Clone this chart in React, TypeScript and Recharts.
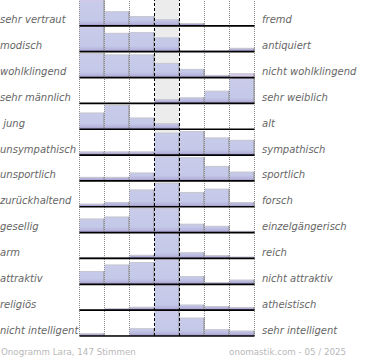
import React from 'react';
import { ComposedChart, Bar, XAxis, YAxis, ReferenceLine, ReferenceArea } from 'recharts';

const columns = ['1', '2', '3', '4', '5', '6', '7'];

const leftLabels = ['sehr vertraut', 'modisch', 'wohlklingend', 'sehr männlich', ' jung', 'unsympathisch', 'unsportlich', 'zurückhaltend', 'gesellig', 'arm', 'attraktiv', 'religiös', 'nicht intelligent'];
const rightLabels = ['fremd', 'antiquiert', 'nicht wohlklingend', 'sehr weiblich', 'alt', 'sympathisch', 'sportlich', 'forsch', 'einzelgängerisch', 'reich', 'nicht attraktiv', 'atheistisch', 'sehr intelligent'];

const vertraut = [32, 14.5, 9.8, 6.5, 2.8, 0, 0];
const modisch = [30, 18.8, 19.5, 14.2, 1.6, 1.4, 3.8];
const wohlklingend = [24.6, 23, 23, 14.6, 8.6, 2.6, 0];
const maennlich = [0, 0, 0, 4, 6, 12.6, 30];
const jung = [16.6, 24.3, 11.6, 6, 0, 0, 0];
const unsympathisch = [3.5, 3.5, 3.5, 22.3, 24, 17.5, 15.2];
const unsportlich = [4, 4, 8.3, 25, 23.8, 15, 9.2];
const zurueckhaltend = [3, 4.8, 17.2, 24, 14.8, 18, 4.7];
const gesellig = [14, 16, 25, 25, 8.8, 6.7, 1.7];
const arm = [1.5, 1.5, 3.6, 25.8, 6.2, 3.2, 1.7];
const attraktiv = [13.3, 19.7, 22.3, 25.8, 8.3, 2, 4.6];
const religioes = [0.3, 1.7, 3.3, 25.8, 5.5, 4, 3.2];
const intelligent = [2.7, 0.4, 7.7, 25.8, 18.3, 6.7, 5.3];

const rows = [vertraut, modisch, wohlklingend, maennlich, jung, unsympathisch, unsportlich, zurueckhaltend, gesellig, arm, attraktiv, religioes, intelligent];

const footerLeft = 'Onogramm Lara, 147 Stimmen';
const footerRight = 'onomastik.com - 05 / 2025';

const N = rows.length;
const ROW = 336 / N;
const baseOf = (r: number) => (N - 1 - r) * ROW;

const data = columns.map((c, i) => ({ col: c, v: rows.map((row) => row[i]) }));
const ticks = rows.map((_, r) => baseOf(r));
const rowOfValue = (v: number) => rows.findIndex((_, r) => Math.abs(baseOf(r) - v) < 0.01);

const BarShape = (props: any) => {
  const { x, y, width, height, index, row } = props;
  const top = Math.min(y, y + height);
  const h = Math.abs(height);
  if (!(h > 0.2)) return <g />;
  const bottom = top + h;
  const id = `grad-${row}-${index}`;
  return (
    <g>
      <defs>
        <linearGradient id={id} gradientUnits="userSpaceOnUse" x1={0} x2={0} y1={bottom} y2={bottom - 32}>
          <stop offset="0" stopColor="#9c8ec6" />
          <stop offset="0.07" stopColor="#b6b4dc" />
          <stop offset="0.18" stopColor="#c5c9e9" />
          <stop offset="0.7" stopColor="#c8cbe9" />
          <stop offset="1" stopColor="#dfc8e7" />
        </linearGradient>
      </defs>
      <rect x={x} y={top} width={width} height={h} fill={`url(#${id})`} />
      <line x1={x} x2={x + width - 1} y1={top + 0.5} y2={top + 0.5} stroke="#c8c8d0" strokeWidth={1} />
      <line x1={x + width - 0.5} x2={x + width - 0.5} y1={top} y2={bottom} stroke="#8c8c8c" strokeWidth={1} />
    </g>
  );
};

const LeftTick = (props: any) => {
  const r = rowOfValue(props.payload.value);
  return (
    <text x={0} y={props.y - 2.5} fontSize={10} fontStyle="italic" fill="#666666" fontFamily="DejaVu Sans" style={{ whiteSpace: 'pre' }}>
      {leftLabels[r]}
    </text>
  );
};

const RightTick = (props: any) => {
  const r = rowOfValue(props.payload.value);
  return (
    <text x={262} y={props.y - 2.5} fontSize={10} fontStyle="italic" fill="#666666" fontFamily="DejaVu Sans">
      {rightLabels[r]}
    </text>
  );
};

const order = rows.map((_, r) => N - 1 - r);
const dottedStarts = ['1', '2', '3', '6', '7'];
const dashedStarts = ['4', '5'];

export default function App() {
  return (
    <div style={{ position: 'absolute', left: 0, top: 0, width: 370, height: 360 }}>
      <ComposedChart width={370} height={360} data={data} margin={{ top: 0, right: 0, bottom: 24, left: 0 }} barCategoryGap={0} barGap={0}>
        {rows.map((_, r) => (
          <XAxis key={`xa${r}`} xAxisId={`r${r}`} dataKey="col" type="category" hide />
        ))}
        <YAxis type="number" domain={[0, N * ROW]} allowDataOverflow ticks={ticks} interval={0} width={79.5} axisLine={false} tickLine={false} tick={<LeftTick />} />
        <YAxis yAxisId="right" orientation="right" type="number" domain={[0, N * ROW]} allowDataOverflow ticks={ticks} interval={0} width={115.5} axisLine={false} tickLine={false} tick={<RightTick />} />
        <ReferenceArea xAxisId="r0" x1="4" x2="4" y1={0} y2={N * ROW} fill="#ececec" fillOpacity={1} stroke="none" />
        {order.map((r) => (
          <Bar
            key={`b${r}`}
            xAxisId={`r${r}`}
            dataKey={(d: any) => [baseOf(r), baseOf(r) + d.v[r]]}
            isAnimationActive={false}
            shape={(p: any) => <BarShape {...p} row={r} />}
          />
        ))}
        {dottedStarts.map((c) => (
          <ReferenceLine key={`d${c}`} xAxisId="r0" x={c} position="start" stroke="#8a8a8a" strokeDasharray="1 1" strokeWidth={1} />
        ))}
        <ReferenceLine xAxisId="r0" x="7" position="end" stroke="#8a8a8a" strokeDasharray="1 1" strokeWidth={1} />
        {dashedStarts.map((c) => (
          <ReferenceLine key={`m${c}`} xAxisId="r0" x={c} position="start" stroke="#000" strokeDasharray="3 2" strokeWidth={1} />
        ))}
        {rows.map((_, r) => (
          <ReferenceLine key={`h${r}`} xAxisId="r0" y={baseOf(r)} stroke="#000" strokeWidth={1.7} />
        ))}
      </ComposedChart>
      <svg width={370} height={360} style={{ position: 'absolute', left: 0, top: 0, pointerEvents: 'none' }}>
        <text x={1} y={355} fontSize={8.7} fill="#b8b8b8" fontFamily="DejaVu Sans">{footerLeft}</text>
        <text x={346} y={355} fontSize={8.7} fill="#b8b8b8" fontFamily="DejaVu Sans" textAnchor="end">{footerRight}</text>
      </svg>
    </div>
  );
}
